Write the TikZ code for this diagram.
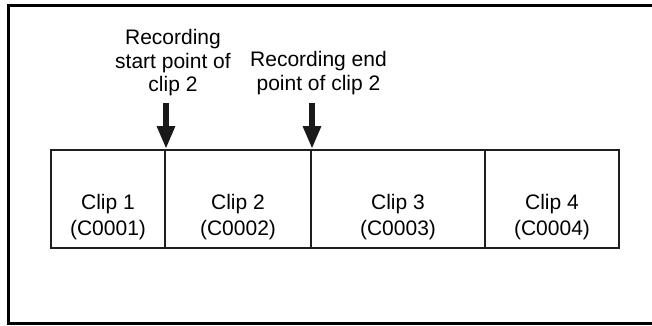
\documentclass[tikz,border=0pt]{standalone}
\usepackage{fontspec}
\setmainfont{Liberation Sans}
\usetikzlibrary{arrows.meta,calc}
\begin{document}
\begin{tikzpicture}[x=1pt,y=-1pt,
  frame/.style={line width=3pt,black},
  clipbox/.style={draw=black!88,line width=2pt,inner sep=0pt},
  cliptext/.style={anchor=north,inner sep=0pt,align=center,font=\fontsize{21}{26}\selectfont},
  labeltext/.style={anchor=north,inner sep=0pt,align=center,font=\fontsize{21}{23.5}\selectfont},
  marker/.style={line width=6pt,black!90,-{Triangle[width=17pt,length=23pt]}}]
\useasboundingbox (0,0) rectangle (652,325);
\draw[frame] (655,5) -- (8,5) -- (8,323) -- (655,323);
% clip boxes
\node[clipbox,minimum width=114pt,minimum height=98pt] (c1) at (108,199) {};
\node[clipbox,minimum width=146pt,minimum height=98pt] (c2) at (238,199) {};
\node[clipbox,minimum width=174pt,minimum height=98pt] (c3) at (398,199) {};
\node[clipbox,minimum width=134pt,minimum height=98pt] (c4) at (552,199) {};
\node[cliptext] (t1) at ($(c1.north)+(0,45)$) {Clip 1\\(C0001)};
\node[cliptext] (t2) at ($(c2.north)+(0,45)$) {Clip 2\\(C0002)};
\node[cliptext] (t3) at ($(c3.north)+(0,45)$) {Clip 3\\(C0003)};
\node[cliptext] (t4) at ($(c4.north)+(0,45)$) {Clip 4\\(C0004)};
% labels
\node[labeltext] (l1) at (173,29.5) {Recording\\start point of\\clip 2};
\node[labeltext] (l2) at (318.5,51.5) {Recording end\\point of clip 2};
% arrows
\coordinate (a1) at ($(c1.north east)+(0,-46)$);
\coordinate (a2) at ($(c2.north east)+(0,-46)$);
\draw[marker] (a1) -- (c1.north east);
\draw[marker] (a2) -- (c2.north east);
\end{tikzpicture}
\end{document}
